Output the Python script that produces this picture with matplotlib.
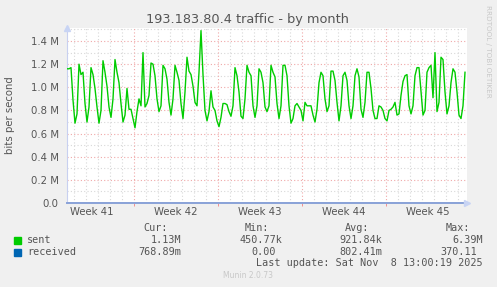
import numpy as np
import pandas as pd
import matplotlib
matplotlib.use("Agg")
import matplotlib.pyplot as plt

# sent traffic, Mbit/s, one sample every 4 hours
sent = [
    1.16, 1.16, 1.17, 0.89, 0.69, 0.77, 1.20, 1.11, 1.13, 0.86, 0.70, 0.83,
    1.17, 1.11, 0.99, 0.83, 0.69, 0.80, 1.23, 1.13, 1.01, 0.83, 0.74, 0.90,
    1.24, 1.13, 1.04, 0.86, 0.70, 0.76, 0.99, 0.81, 0.81, 0.73, 0.65, 0.79,
    0.90, 0.84, 1.30, 0.83, 0.86, 0.93, 1.21, 1.20, 1.10, 0.90, 0.79, 0.84,
    1.19, 1.16, 1.07, 0.87, 0.76, 0.90, 1.19, 1.13, 1.06, 0.86, 0.73, 0.96,
    1.26, 1.14, 1.11, 1.01, 0.87, 0.84, 1.13, 1.49, 1.11, 0.80, 0.71, 0.79,
    0.97, 0.83, 0.80, 0.71, 0.66, 0.74, 0.86, 0.86, 0.85, 0.79, 0.75, 0.84,
    1.17, 1.10, 0.96, 0.75, 0.73, 0.90, 1.19, 1.13, 1.10, 0.84, 0.74, 0.84,
    1.16, 1.13, 1.04, 0.83, 0.79, 0.84, 1.19, 1.13, 1.09, 0.86, 0.73, 0.84,
    1.19, 1.19, 1.10, 0.84, 0.69, 0.73, 0.84, 0.86, 0.83, 0.80, 0.71, 0.87,
    0.84, 0.84, 0.84, 0.76, 0.70, 0.81, 1.04, 1.13, 1.10, 0.90, 0.79, 0.84,
    1.14, 1.14, 1.06, 0.87, 0.71, 0.84, 1.10, 1.13, 1.06, 0.84, 0.73, 0.84,
    1.10, 1.16, 1.09, 0.81, 0.74, 0.87, 1.13, 1.13, 0.99, 0.80, 0.73, 0.73,
    0.84, 0.83, 0.80, 0.73, 0.71, 0.80, 0.81, 0.83, 0.87, 0.76, 0.77, 0.93,
    1.05, 1.10, 1.11, 0.84, 0.77, 0.84, 1.10, 1.17, 1.17, 0.96, 0.76, 0.80,
    1.13, 1.17, 1.19, 0.91, 1.30, 0.79, 0.87, 1.26, 1.24, 0.96, 0.77, 0.84,
    1.04, 1.16, 1.13, 0.96, 0.76, 0.73, 0.84, 1.13,
]
received_cur = 768.89e-3  # bit/s, flat on this scale

start = pd.Timestamp("2025-10-07 10:00")
times = pd.date_range(start, periods=len(sent), freq="4h")
t_end = start + pd.Timedelta(days=400 / 12)

weeks = ["Week 41", "Week 42", "Week 43", "Week 44", "Week 45"]
week_starts = pd.date_range("2025-10-13", "2025-11-03", freq="7D")
week_centers = pd.date_range("2025-10-09 12:00", periods=len(weeks), freq="7D")
days = pd.date_range("2025-10-08", t_end, freq="D")

legend_rows = [
    ("sent", "#00cc00", "1.13M", "450.77k", "921.84k", "6.39M"),
    ("received", "#0066b3", "768.89m", "0.00 ", "802.41m", "370.11 "),
]

W, H = 497, 287
fig = plt.figure(figsize=(W / 100, H / 100), dpi=100, facecolor="#f0f0f0")
ax = fig.add_axes([67 / W, (H - 203) / H, 400 / W, 175 / H])
ax.set_facecolor("white")

ymax = 1.5126e6
ax.set_xlim(start, t_end)
ax.set_ylim(0, ymax)

# grid
for v in np.arange(0.1e6, ymax, 0.1e6):
    major = abs(round(v / 0.2e6) * 0.2e6 - v) < 1
    ax.axhline(v, color="#f0a8a8" if major else "#d8d8d8", lw=0.8,
               ls=(0, (1, 2)), zorder=1)
for d in days:
    if d in week_starts:
        continue
    ax.axvline(d, color="#d8d8d8", lw=0.8, ls=(0, (1, 2)), zorder=1)
for d in week_starts:
    ax.axvline(d, color="#f0a8a8", lw=0.8, ls=(0, (1, 2)), zorder=1)

ax.plot(times, np.array(sent) * 1e6, color="#00cc00", lw=1.0, zorder=3)
ax.plot([start, times[-1]], [received_cur, received_cur], color="#0066b3",
        lw=1.0, zorder=2)

for s in ["top", "right"]:
    ax.spines[s].set_visible(False)
ax.spines["left"].set_color("#c8d0f0")
ax.spines["bottom"].set_color("#8aa2d8")
ax.spines["bottom"].set_linewidth(1.4)
ax.spines["bottom"].set_zorder(4)
ax.plot(1.0, 0, ">", transform=ax.transAxes, color="#c8d4f4", ms=4,
        clip_on=False, zorder=5)
ax.plot(0, 1.0, "^", transform=ax.transAxes, color="#c8d4f4", ms=4,
        clip_on=False, zorder=5)

yt = np.arange(0, 1.41e6, 0.2e6)
ax.set_yticks(yt)
ax.set_yticklabels(["0.0"] + ["%.1f M" % (v / 1e6) for v in yt[1:]])
ax.set_xticks(week_centers)
ax.set_xticklabels(weeks)
ax.set_xticks(week_starts, minor=True)
ax.tick_params(axis="both", which="major", length=0, labelsize=7.3,
               labelcolor="#555555", pad=6)
ax.tick_params(axis="x", which="major", pad=3)
ax.tick_params(axis="x", which="minor", length=2.5, color="#f08080")
ax.tick_params(axis="y", which="minor", length=0)

fig.text(248 / W, 1 - 19 / H, "193.183.80.4 traffic - by month",
         ha="center", va="center", fontsize=9.3, color="#555555")
fig.text(10 / W, 1 - 115 / H, "bits per second", rotation=90,
         ha="center", va="center", fontsize=7.3, color="#555555")
fig.text(488 / W, 1 - 5 / H, "RRDTOOL / TOBI OETIKER", rotation=270,
         ha="center", va="top", fontsize=5.2, color="#c8c8c8")

mono = dict(family="DejaVu Sans Mono", fontsize=7.3, color="#555555",
            va="center")
cols = [181, 282, 382, 483]
for x, h in zip(cols, ["Cur:", "Min:", "Avg:", "Max:"]):
    fig.text((x - 13) / W, 1 - 228 / H, h, ha="right", **mono)
for i, row in enumerate(legend_rows):
    y = 1 - (240 + 12 * i) / H
    fig.patches.append(plt.Rectangle((14 / W, y - 3.5 / H), 6.5 / W, 6.5 / H,
                                     transform=fig.transFigure,
                                     color=row[1]))
    fig.text(27 / W, y, row[0], ha="left", **mono)
    for x, val in zip(cols, row[2:]):
        off = 6 if val.endswith(" ") else 0
        fig.text((x - off) / W, y, val.strip(), ha="right", **mono)
fig.text(483 / W, 1 - 263 / H, "Last update: Sat Nov  8 13:00:19 2025",
         ha="right", **mono)
fig.text(223 / W, 1 - 276 / H, "Munin 2.0.73", ha="left", va="center",
         fontsize=5.5, color="#c8c8c8")

fig.savefig("out.png", dpi=100, facecolor=fig.get_facecolor())
